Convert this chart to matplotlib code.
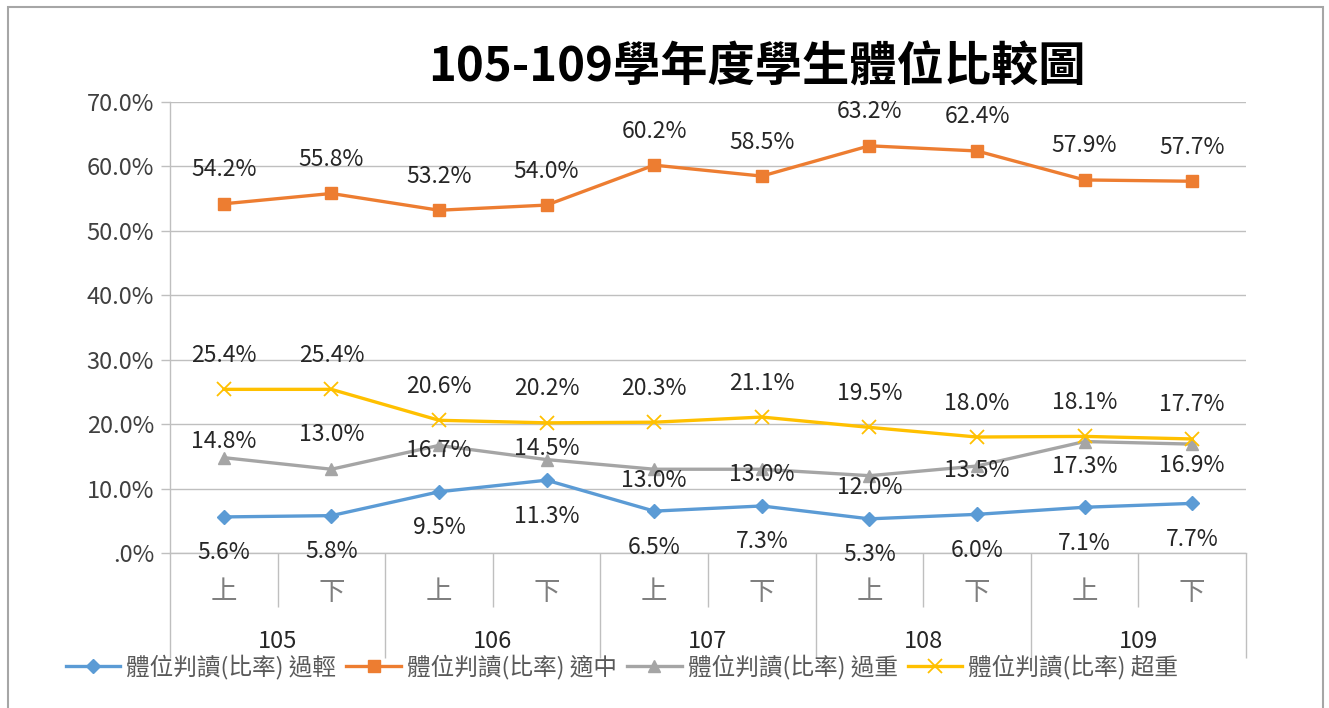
import matplotlib
matplotlib.use("Agg")
import matplotlib.pyplot as plt
from matplotlib.patches import Rectangle
from matplotlib.ticker import FuncFormatter, FixedLocator

plt.rcParams['font.family'] = ['Noto Sans CJK TC', 'DejaVu Sans']

# -- data --
years = ['105', '106', '107', '108', '109']
terms = ['上', '下']
series_names = ['體位判讀(比率) 過輕', '體位判讀(比率) 適中', '體位判讀(比率) 過重', '體位判讀(比率) 超重']
thin = [5.6, 5.8, 9.5, 11.3, 6.5, 7.3, 5.3, 6.0, 7.1, 7.7]
normal = [54.2, 55.8, 53.2, 54.0, 60.2, 58.5, 63.2, 62.4, 57.9, 57.7]
over = [14.8, 13.0, 16.7, 14.5, 13.0, 13.0, 12.0, 13.5, 17.3, 16.9]
obese = [25.4, 25.4, 20.6, 20.2, 20.3, 21.1, 19.5, 18.0, 18.1, 17.7]

# styling
colors = ['#5B9BD5', '#ED7D31', '#A5A5A5', '#FFC000']
markers = ['D', 's', '^', 'x']
msizes = [7, 8, 8.5, 10]
# label offsets in pixels (positive = above the point)
label_dy = [
    [-36] * 10,
    [34] * 10,
    [16, 35, -5, 11, -11, -5, -12, -4, -25, -21],
    [34] * 10,
]
grid_c = '#BFBFBF'

fig = plt.figure(figsize=(13.29, 7.08), dpi=100)
fig.patches.append(Rectangle((8 / 1329, -0.05), 1315 / 1329, 1.05 - 7 / 708,
                             transform=fig.transFigure, fill=False,
                             edgecolor='#A6A6A6', lw=1.5))
ax = fig.add_axes([170 / 1329, 1 - 553 / 708, 1076 / 1329, 451 / 708])

xs = [i + 0.5 for i in range(len(thin))]
all_series = [thin, normal, over, obese]
for vals, name, c, m, ms, dys in zip(all_series, series_names, colors, markers, msizes, label_dy):
    mew = 1.3 if m == 'x' else 1
    ax.plot(xs, vals, color=c, lw=2.4, marker=m, markersize=ms, markeredgewidth=mew,
            label=name, zorder=3, solid_joinstyle='round')
    for x, v, dy in zip(xs, vals, dys):
        ax.annotate(f'{v:.1f}%', xy=(x, v), xytext=(0, dy), textcoords='offset pixels',
                    ha='center', va='center', fontsize=16.5, color='#262626', zorder=5)

ax.set_xlim(0, len(thin))
ax.set_ylim(0, 70)
ax.yaxis.set_major_locator(FixedLocator(range(0, 71, 10)))
ax.yaxis.set_major_formatter(FuncFormatter(lambda v, p: '.0%' if v == 0 else f'{v:.1f}%'))
ax.grid(axis='y', color=grid_c, lw=1)
ax.set_axisbelow(True)
ax.tick_params(axis='y', length=6.5, color=grid_c, width=1, labelsize=17,
               labelcolor='#404040', pad=5)

# multi-level category axis: long ticks at year boundaries, short ones between terms
ax.set_xticks(range(0, len(thin) + 1, 2))
ax.set_xticks(range(1, len(thin), 2), minor=True)
ax.tick_params(axis='x', which='major', length=75.5, color=grid_c, width=1, labelbottom=False)
ax.tick_params(axis='x', which='minor', length=39, color=grid_c, width=1, labelbottom=False)
for i, x in enumerate(xs):
    ax.annotate(terms[i % 2], xy=(x, 0), xycoords=('data', 'axes fraction'),
                xytext=(0, -39), textcoords='offset pixels', ha='center', va='center',
                fontsize=19, color='#7F7F7F', fontweight='light')
for j, yr in enumerate(years):
    ax.annotate(yr, xy=(2 * j + 1, 0), xycoords=('data', 'axes fraction'),
                xytext=(0, -89), textcoords='offset pixels', ha='center', va='center',
                fontsize=17, color='#262626')

for s in ['top', 'right']:
    ax.spines[s].set_visible(False)
for s in ['left', 'bottom']:
    ax.spines[s].set_color(grid_c)
    ax.spines[s].set_linewidth(1)

fig.text(757 / 1329, 1 - 68 / 708, '105-109學年度學生體位比較圖', ha='center', va='center',
         fontsize=34, fontweight='bold', color='black')

leg = fig.legend(loc='center', bbox_to_anchor=(622 / 1329, 1 - 667 / 708), ncol=4,
                 frameon=False, fontsize=17, handlelength=2.3, handletextpad=0.25,
                 columnspacing=0.45, borderaxespad=0)
for t in leg.get_texts():
    t.set_color('#595959')

fig.savefig('out.png', dpi=100)
